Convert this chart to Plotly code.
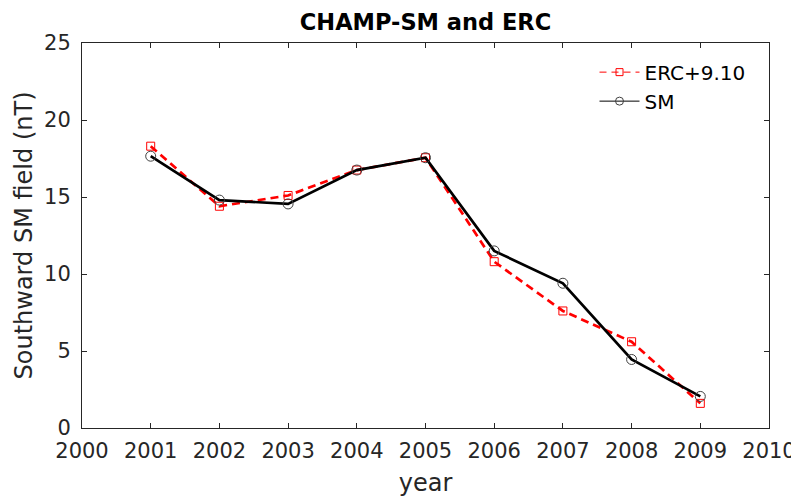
import plotly.graph_objects as go

years = [2001, 2002, 2003, 2004, 2005, 2006, 2007, 2008, 2009]
erc = [18.3, 14.4, 15.1, 16.75, 17.55, 10.8, 7.6, 5.6, 1.6]
sm = [17.65, 14.8, 14.55, 16.75, 17.55, 11.5, 9.4, 4.45, 2.05]
x_ticks = list(range(2000, 2011))
y_ticks = [0, 5, 10, 15, 20, 25]

FONT = "DejaVu Sans"
TXT = "#262626"

# the page body has an 8px default margin, so the figure is sized to fill the rest
W, H = 791, 489

fig = go.Figure()
fig.add_trace(go.Scatter(
    x=years, y=erc, name="ERC+9.10", mode="lines+markers", showlegend=False,
    line=dict(color="red", width=2.7, dash="8px,5px"),
    marker=dict(symbol="square-open", size=8, color="red", line=dict(width=1)),
))
fig.add_trace(go.Scatter(
    x=years, y=sm, name="SM", mode="lines+markers", showlegend=False,
    line=dict(color="black", width=2.7),
    marker=dict(symbol="circle-open", size=10, color="#404040", line=dict(width=1)),
))
# legend entries (MATLAB draws thin lines in its legend)
fig.add_trace(go.Scatter(
    x=[None], y=[None], name="ERC+9.10", mode="lines+markers",
    line=dict(color="red", width=1, dash="7px,5px"),
    marker=dict(symbol="square-open", size=7, color="red", line=dict(width=1)),
))
fig.add_trace(go.Scatter(
    x=[None], y=[None], name="SM", mode="lines+markers",
    line=dict(color="black", width=1),
    marker=dict(symbol="circle-open", size=8, color="#404040", line=dict(width=1)),
))

axis_common = dict(
    showline=True, linecolor=TXT, linewidth=1, mirror="ticks",
    ticks="inside", ticklen=5, tickcolor=TXT, showgrid=False, zeroline=False,
    tickfont=dict(family=FONT, size=21, color=TXT), automargin=False,
)
fig.update_layout(
    width=W, height=H,
    margin=dict(l=74, r=30, t=35, b=69),
    paper_bgcolor="white", plot_bgcolor="white",
    title=dict(text="<b>CHAMP-SM and ERC</b>", x=0.5, xref="paper", xanchor="center",
               y=1 - 14 / H, yanchor="middle",
               font=dict(family=FONT, size=22.5, color="black")),
    xaxis=dict(range=[2000, 2010], tickvals=x_ticks, ticktext=[str(v) for v in x_ticks],
               ticklabelstandoff=4,
               title=dict(text="year", font=dict(family=FONT, size=24, color=TXT), standoff=12),
               **axis_common),
    yaxis=dict(range=[0, 25], tickvals=y_ticks, ticklabelstandoff=6,
               title=dict(text="Southward SM field (nT)", font=dict(family=FONT, size=24, color=TXT), standoff=4),
               **axis_common),
    legend=dict(x=0.746, y=0.975, xanchor="left", yanchor="top", bgcolor="rgba(0,0,0,0)",
                font=dict(family=FONT, size=20, color="black"), tracegroupgap=0,
                itemwidth=40),
    showlegend=True,
)
fig.write_html("out.html")
